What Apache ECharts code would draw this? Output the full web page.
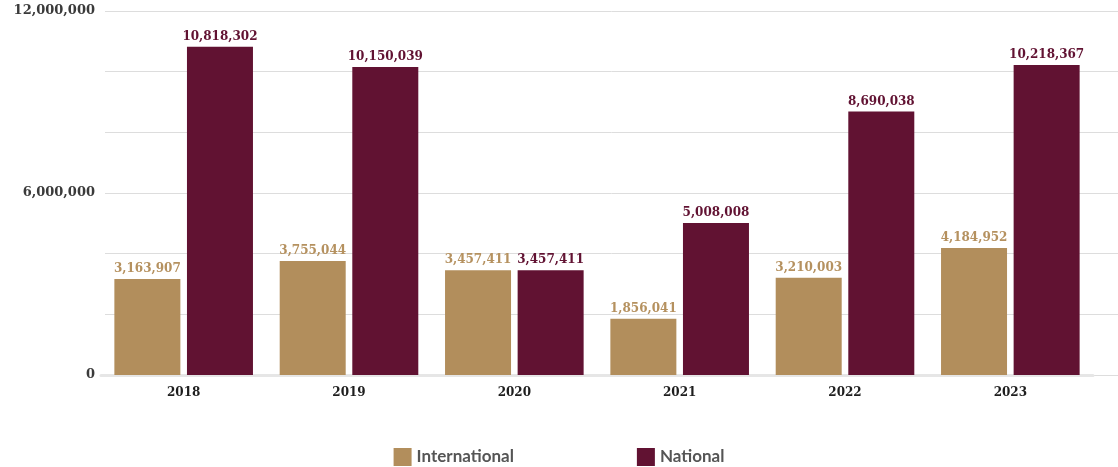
<!DOCTYPE html>
<html>
<head>
<meta charset="utf-8">
<script src="https://cdn.jsdelivr.net/npm/echarts@6/dist/echarts.min.js"></script>
<style>
  html, body { margin: 0; padding: 0; background: #ffffff; }
  #chart { width: 1118px; height: 467px; }
</style>
</head>
<body>
<div id="chart"></div>
<script>
// Passenger totals per year, split by flight type
const years = ['2018', '2019', '2020', '2021', '2022', '2023'];
const international = [3163907, 3755044, 3457411, 1856041, 3210003, 4184952];
const national = [10818302, 10150039, 3457411, 5008008, 8690038, 10218367];
const yMin = 0;
const yMax = 12000000;
const yStep = 2000000;
const yLabelStep = 6000000;

const serif = '"DejaVu Serif", serif';
const fmt = v => v.toLocaleString('en-US');

const chart = echarts.init(document.getElementById('chart'));
chart.setOption({
  animation: false,
  backgroundColor: '#ffffff',
  grid: [
    // background grid: full-width gridlines and y labels
    { left: 105, right: 0, top: 11, bottom: 92 },
    // bar grid
    { left: 101, right: 25, top: 11, bottom: 92 }
  ],
  legend: {
    top: 443,
    left: 'center',
    itemWidth: 18,
    itemHeight: 18,
    itemGap: 123,
    icon: 'rect',
    textStyle: { fontFamily: 'Lato', fontWeight: 'bold', fontSize: 17, color: '#555555' },
    data: ['International', 'National']
  },
  xAxis: [
    { gridIndex: 0, type: 'value', show: false },
    {
      gridIndex: 1,
      type: 'category',
      data: years,
      axisTick: { show: false },
      axisLine: { show: true, lineStyle: { color: '#e6e6e6', width: 3 } },
      axisLabel: { margin: 12, fontFamily: serif, fontWeight: 'bold', fontSize: 12, color: '#1e1e1e' }
    }
  ],
  yAxis: [
    {
      gridIndex: 0,
      type: 'value',
      min: yMin, max: yMax, interval: yStep,
      axisLine: { show: false },
      axisTick: { show: false },
      splitLine: { lineStyle: { color: '#dddddd', width: 1 } },
      axisLabel: {
        margin: 10,
        fontFamily: serif, fontWeight: 'bold', fontSize: 13, color: '#3a3a3a',
        formatter: v => (v % yLabelStep === 0 ? fmt(v) : '')
      }
    },
    {
      gridIndex: 1,
      type: 'value',
      min: yMin, max: yMax, interval: yStep,
      show: false,
      splitLine: { show: false }
    }
  ],
  series: [
    {
      name: 'International',
      type: 'bar',
      xAxisIndex: 1, yAxisIndex: 1,
      data: international,
      barWidth: 66,
      barGap: '10%',
      itemStyle: { color: '#b28e5c' },
      label: {
        show: true, position: 'top', distance: 4,
        fontFamily: serif, fontWeight: 'bold', fontSize: 12, color: '#b5915f',
        formatter: p => fmt(p.value)
      }
    },
    {
      name: 'National',
      type: 'bar',
      xAxisIndex: 1, yAxisIndex: 1,
      data: national,
      barWidth: 66,
      barGap: '10%',
      itemStyle: { color: '#611232' },
      label: {
        show: true, position: 'top', distance: 4,
        fontFamily: serif, fontWeight: 'bold', fontSize: 12, color: '#611232',
        formatter: p => fmt(p.value)
      }
    }
  ]
});
</script>
</body>
</html>
